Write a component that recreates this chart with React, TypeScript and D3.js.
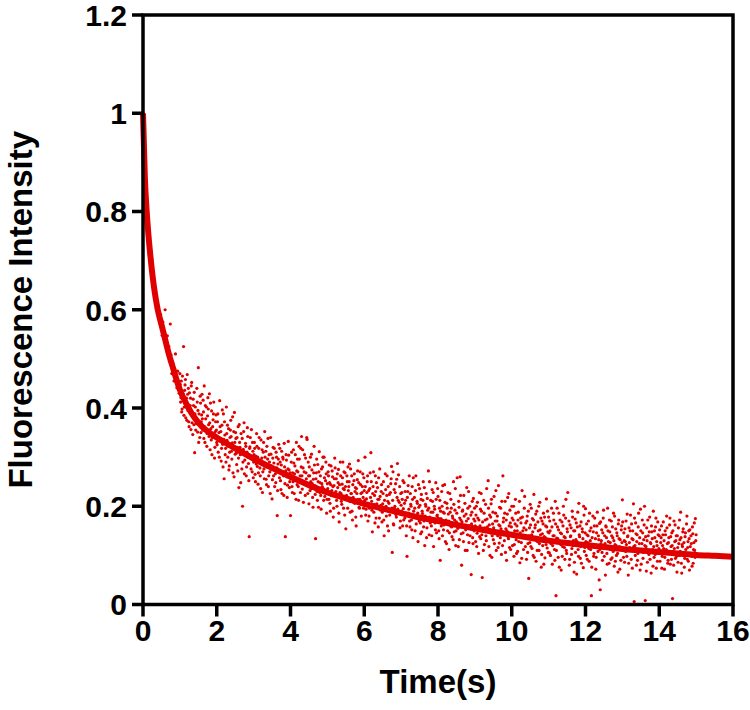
import React from "react";
import * as d3 from "d3";

// Axis ticks
const xTicks = [0, 2, 4, 6, 8, 10, 12, 14, 16];
const yTicks = [0, 0.2, 0.4, 0.6, 0.8, 1, 1.2];
const yTickLabels = ["0", "0.2", "0.4", "0.6", "0.8", "1", "1.2"];

// Fitted decay curve
const fitT = [0, 0.05, 0.1, 0.15, 0.2, 0.3, 0.4, 0.5, 0.6, 0.7, 0.8, 0.9, 1.0, 1.2, 1.4, 1.6, 1.8, 2.0, 2.5, 3, 3.5, 4, 4.5, 5, 5.5, 6, 6.5, 7, 7.5, 8, 8.5, 9, 9.5, 10, 10.5, 11, 11.5, 12, 12.5, 13, 13.5, 14, 14.5, 15, 15.5, 16];
const fitY = [1.0, 0.87, 0.8, 0.75, 0.71, 0.645, 0.6, 0.57, 0.54, 0.51, 0.485, 0.46, 0.437, 0.405, 0.38, 0.362, 0.35, 0.34, 0.318, 0.297, 0.278, 0.26, 0.243, 0.228, 0.216, 0.205, 0.195, 0.186, 0.177, 0.17, 0.162, 0.155, 0.148, 0.142, 0.136, 0.13, 0.125, 0.121, 0.117, 0.113, 0.11, 0.107, 0.104, 0.101, 0.099, 0.097];

// Measured points [time (s), intensity], even frames
const scatter: [number, number][] = [
[0,1.0],[.02,.955],[.04,.905],[.06,.862],[.08,.835],[.1,.8],[.12,.782],[.14,.76],[.16,.741],[.18,.728],[.2,.712],[.22,.69],[.24,.688],[.26,.668],[.28,.66],[.3,.647],[.32,.631],[.34,.626],[.36,.612],[.38,.618],[.4,.598],[.42,.606],[.44,.588],[.46,.572],[.48,.59],[.5,.566],[.52,.548],[.54,.575],[.56,.541],[.58,.556],[.6,.6],[.62,.53],[.64,.52],[.66,.547],[.68,.512],[.7,.525],[.72,.495],[.74,.571],[.76,.508],[.78,.47],[.8,.493],[.82,.486],[.84,.455],[.86,.48],[.88,.51],[.9,.462],[.92,.441],[.94,.475],[.96,.448],[.98,.43],[1.0,.47],
[1.02,.412],[1.04,.455],[1.06,.398],[1.08,.43],[1.1,.525],[1.12,.402],[1.14,.447],[1.16,.38],[1.18,.42],[1.2,.468],[1.22,.395],[1.24,.372],[1.26,.431],[1.28,.405],[1.3,.356],[1.32,.452],[1.34,.39],[1.36,.418],[1.38,.366],[1.4,.309],[1.42,.402],[1.44,.376],[1.46,.44],[1.48,.351],[1.5,.482],[1.52,.388],[1.54,.34],[1.56,.41],[1.58,.372],[1.6,.428],[1.62,.355],[1.64,.392],[1.66,.445],[1.68,.33],[1.7,.378],[1.72,.402],[1.74,.348],[1.76,.421],[1.78,.366],[1.8,.429],[1.82,.315],[1.84,.358],[1.86,.394],[1.88,.34],[1.9,.376],[1.92,.412],[1.94,.298],[1.96,.352],[1.98,.386],[2.0,.33],
[2.02,.372],[2.04,.31],[2.06,.35],[2.08,.415],[2.1,.338],[2.12,.292],[2.14,.365],[2.16,.326],[2.18,.388],[2.2,.256],[2.22,.345],[2.24,.318],[2.26,.402],[2.28,.334],[2.3,.3],[2.32,.358],[2.34,.282],[2.36,.34],[2.38,.375],[2.4,.312],[2.42,.329],[2.44,.268],[2.46,.352],[2.48,.391],[2.5,.306],[2.52,.338],[2.54,.285],[2.56,.32],[2.58,.362],[2.6,.238],[2.62,.33],[2.64,.305],[2.66,.348],[2.68,.276],[2.7,.2],[2.72,.316],[2.74,.37],[2.76,.294],[2.78,.328],[2.8,.262],[2.82,.31],[2.84,.342],[2.86,.287],[2.88,.138],[2.9,.321],[2.92,.298],[2.94,.356],[2.96,.27],[2.98,.312],[3.0,.29],
[3.02,.33],[3.04,.265],[3.06,.302],[3.08,.348],[3.1,.281],[3.12,.245],[3.14,.318],[3.16,.29],[3.18,.262],[3.2,.335],[3.22,.298],[3.24,.228],[3.26,.31],[3.28,.276],[3.3,.352],[3.32,.285],[3.34,.255],[3.36,.322],[3.38,.296],[3.4,.24],[3.42,.305],[3.44,.27],[3.46,.34],[3.48,.282],[3.5,.215],[3.52,.298],[3.54,.262],[3.56,.318],[3.58,.276],[3.6,.248],[3.62,.3],[3.64,.181],[3.66,.286],[3.68,.326],[3.7,.258],[3.72,.29],[3.74,.234],[3.76,.312],[3.78,.27],[3.8,.296],[3.82,.222],[3.84,.28],[3.86,.138],[3.88,.305],[3.9,.26],[3.92,.243],[3.94,.332],[3.96,.274],[3.98,.25],[4.0,.181],
[4.02,.29],[4.04,.24],[4.06,.268],[4.08,.315],[4.1,.226],[4.12,.282],[4.14,.256],[4.16,.33],[4.18,.244],[4.2,.27],[4.22,.212],[4.24,.296],[4.26,.262],[4.28,.318],[4.3,.342],[4.32,.235],[4.34,.278],[4.36,.25],[4.38,.305],[4.4,.222],[4.42,.268],[4.44,.34],[4.46,.246],[4.48,.29],[4.5,.205],[4.52,.262],[4.54,.3],[4.56,.236],[4.58,.274],[4.6,.218],[4.62,.255],[4.64,.322],[4.66,.242],[4.68,.134],[4.7,.268],[4.72,.23],[4.74,.285],[4.76,.198],[4.78,.311],[4.8,.248],[4.82,.222],[4.84,.276],[4.86,.24],[4.88,.3],[4.9,.212],[4.92,.258],[4.94,.232],[4.96,.29],[4.98,.186],[5.0,.246],
[5.02,.27],[5.04,.214],[5.06,.248],[5.08,.19],[5.1,.282],[5.12,.232],[5.14,.26],[5.16,.178],[5.18,.242],[5.2,.298],[5.22,.22],[5.24,.256],[5.26,.2],[5.28,.238],[5.3,.275],[5.32,.168],[5.34,.228],[5.36,.262],[5.38,.21],[5.4,.245],[5.42,.29],[5.44,.196],[5.46,.234],[5.48,.268],[5.5,.154],[5.52,.222],[5.54,.25],[5.56,.28],[5.58,.24],[5.6,.286],[5.62,.188],[5.64,.226],[5.66,.262],[5.68,.172],[5.7,.218],[5.72,.252],[5.74,.206],[5.76,.238],[5.78,.16],[5.8,.226],[5.82,.272],[5.84,.293],[5.86,.198],[5.88,.214],[5.9,.244],[5.92,.18],[5.94,.228],[5.96,.266],[5.98,.196],[6.0,.232],
[6.02,.3],[6.04,.182],[6.06,.215],[6.08,.25],[6.1,.17],[6.12,.232],[6.14,.196],[6.16,.268],[6.18,.309],[6.2,.21],[6.22,.148],[6.24,.24],[6.26,.188],[6.28,.222],[6.3,.262],[6.32,.176],[6.34,.205],[6.36,.238],[6.38,.158],[6.4,.214],[6.42,.276],[6.44,.192],[6.46,.23],[6.48,.168],[6.5,.205],[6.52,.25],[6.54,.14],[6.56,.198],[6.58,.234],[6.6,.18],[6.62,.262],[6.64,.21],[6.66,.15],[6.68,.224],[6.7,.19],[6.72,.246],[6.74,.281],[6.76,.106],[6.78,.27],[6.8,.162],[6.82,.196],[6.84,.228],[6.86,.183],[6.88,.255],[6.9,.287],[6.92,.212],[6.94,.186],[6.96,.24],[6.98,.17],[7.0,.202],
[7.02,.228],[7.04,.16],[7.06,.195],[7.08,.248],[7.1,.176],[7.12,.212],[7.14,.14],[7.16,.098],[7.18,.23],[7.2,.186],[7.22,.262],[7.24,.158],[7.26,.204],[7.28,.172],[7.3,.24],[7.32,.136],[7.34,.19],[7.36,.218],[7.38,.15],[7.4,.262],[7.42,.18],[7.44,.206],[7.46,.128],[7.48,.198],[7.5,.236],[7.52,.166],[7.54,.214],[7.56,.148],[7.58,.185],[7.6,.25],[7.62,.17],[7.64,.12],[7.66,.204],[7.68,.226],[7.7,.156],[7.72,.192],[7.74,.272],[7.76,.142],[7.78,.178],[7.8,.212],[7.82,.16],[7.84,.234],[7.86,.188],[7.88,.118],[7.9,.2],[7.92,.166],[7.94,.248],[7.96,.146],[7.98,.182],[8.0,.22],
[8.02,.15],[8.04,.196],[8.06,.09],[8.08,.175],[8.1,.23],[8.12,.14],[8.14,.188],[8.16,.162],[8.18,.244],[8.2,.128],[8.22,.172],[8.24,.206],[8.26,.15],[8.28,.184],[8.3,.112],[8.32,.226],[8.34,.16],[8.36,.196],[8.38,.138],[8.4,.176],[8.42,.25],[8.44,.148],[8.46,.192],[8.48,.12],[8.5,.168],[8.52,.258],[8.54,.155],[8.56,.21],[8.58,.132],[8.6,.26],[8.62,.172],[8.64,.08],[8.66,.19],[8.68,.146],[8.7,.222],[8.72,.16],[8.74,.11],[8.76,.184],[8.78,.238],[8.8,.142],[8.82,.175],[8.84,.126],[8.86,.2],[8.88,.158],[8.9,.061],[8.92,.188],[8.94,.136],[8.96,.216],[8.98,.15],[9.0,.17],
[9.02,.128],[9.04,.2],[9.06,.145],[9.08,.176],[9.1,.104],[9.12,.228],[9.14,.16],[9.16,.134],[9.18,.19],[9.2,.055],[9.22,.15],[9.24,.212],[9.26,.122],[9.28,.172],[9.3,.14],[9.32,.236],[9.34,.158],[9.36,.252],[9.38,.118],[9.4,.182],[9.42,.146],[9.44,.205],[9.46,.096],[9.48,.164],[9.5,.132],[9.52,.22],[9.54,.15],[9.56,.186],[9.58,.11],[9.6,.17],[9.62,.14],[9.64,.242],[9.66,.125],[9.68,.16],[9.7,.196],[9.72,.102],[9.74,.148],[9.76,.262],[9.78,.176],[9.8,.13],[9.82,.21],[9.84,.154],[9.86,.09],[9.88,.184],[9.9,.138],[9.92,.226],[9.94,.116],[9.96,.166],[9.98,.145],[10.0,.2],
[10.02,.12],[10.04,.172],[10.06,.098],[10.08,.15],[10.1,.214],[10.12,.132],[10.14,.16],[10.16,.108],[10.18,.188],[10.2,.14],[10.22,.085],[10.24,.176],[10.26,.126],[10.28,.232],[10.3,.15],[10.32,.112],[10.34,.196],[10.36,.138],[10.38,.166],[10.4,.092],[10.42,.18],[10.44,.124],[10.46,.053],[10.48,.156],[10.5,.204],[10.52,.118],[10.54,.142],[10.56,.175],[10.58,.1],[10.6,.224],[10.62,.135],[10.64,.162],[10.66,.088],[10.68,.19],[10.7,.128],[10.72,.15],[10.74,.11],[10.76,.208],[10.78,.142],[10.8,.076],[10.82,.17],[10.84,.12],[10.86,.186],[10.88,.138],[10.9,.095],[10.92,.16],[10.94,.215],[10.96,.115],[10.98,.148],[11.0,.178],
[11.02,.105],[11.04,.15],[11.06,.124],[11.08,.196],[11.1,.082],[11.12,.14],[11.14,.172],[11.16,.112],[11.18,.21],[11.2,.018],[11.22,.135],[11.24,.158],[11.26,.096],[11.28,.186],[11.3,.126],[11.32,.146],[11.34,.07],[11.36,.168],[11.38,.118],[11.4,.2],[11.42,.138],[11.44,.092],[11.46,.176],[11.48,.11],[11.5,.154],[11.52,.228],[11.54,.128],[11.56,.08],[11.58,.162],[11.6,.14],[11.62,.102],[11.64,.19],[11.66,.12],[11.68,.15],[11.7,.086],[11.72,.174],[11.74,.132],[11.76,.062],[11.78,.158],[11.8,.112],[11.82,.206],[11.84,.138],[11.86,.094],[11.88,.168],[11.9,.124],[11.92,.148],[11.94,.075],[11.96,.182],[11.98,.116],[12.0,.195],
[12.02,.1],[12.04,.142],[12.06,.126],[12.08,.17],[12.1,.088],[12.12,.15],[12.14,.112],[12.16,.018],[12.18,.136],[12.2,.18],[12.22,.098],[12.24,.16],[12.26,.12],[12.28,.072],[12.3,.146],[12.32,.188],[12.34,.108],[12.36,.132],[12.38,.165],[12.4,.03],[12.42,.124],[12.44,.152],[12.46,.09],[12.48,.176],[12.5,.116],[12.52,.14],[12.54,.06],[12.56,.158],[12.58,.104],[12.6,.196],[12.62,.128],[12.64,.084],[12.66,.148],[12.68,.112],[12.7,.17],[12.72,.095],[12.74,.136],[12.76,.186],[12.78,.078],[12.8,.122],[12.82,.154],[12.84,.1],[12.86,.14],[12.88,.066],[12.9,.172],[12.92,.118],[12.94,.132],[12.96,.09],[12.98,.16],[13.0,.213],
[13.02,.112],[13.04,.146],[13.06,.086],[13.08,.128],[13.1,.17],[13.12,.098],[13.14,.138],[13.16,.06],[13.18,.156],[13.2,.116],[13.22,.182],[13.24,.092],[13.26,.134],[13.28,.15],[13.3,.205],[13.32,.006],[13.34,.12],[13.36,.166],[13.38,.08],[13.4,.142],[13.42,.104],[13.44,.186],[13.46,.124],[13.48,.07],[13.5,.15],[13.52,.11],[13.54,.172],[13.56,.094],[13.58,.132],[13.6,.2],[13.62,.008],[13.64,.118],[13.66,.156],[13.68,.086],[13.7,.14],[13.72,.102],[13.74,.178],[13.76,.126],[13.78,.064],[13.8,.148],[13.82,.112],[13.84,.19],[13.86,.096],[13.88,.136],[13.9,.158],[13.92,.074],[13.94,.12],[13.96,.168],[13.98,.104],[14.0,.14],
[14.02,.088],[14.04,.126],[14.06,.16],[14.08,.098],[14.1,.142],[14.12,.114],[14.14,.072],[14.16,.15],[14.18,.106],[14.2,.18],[14.22,.124],[14.24,.09],[14.26,.136],[14.28,.162],[14.3,.082],[14.32,.118],[14.34,.146],[14.36,.012],[14.38,.108],[14.4,.17],[14.42,.128],[14.44,.094],[14.46,.14],[14.48,.066],[14.5,.116],[14.52,.156],[14.54,.1],[14.56,.132],[14.58,.188],[14.6,.084],[14.62,.122],[14.64,.148],[14.66,.102],[14.68,.076],[14.7,.138],[14.72,.112],[14.74,.164],[14.76,.092],[14.78,.128],[14.8,.15],[14.82,.07],[14.84,.118],[14.86,.14],[14.88,.098],[14.9,.158],[14.92,.084],[14.94,.126],[14.96,.11],[14.98,.175],[15.0,.142]
];

// Measured points, odd frames
const scatterB: [number, number][] = [
[1.01,.448],[1.03,.421],[1.05,.392],[1.07,.465],[1.09,.418],[1.11,.385],[1.13,.436],[1.15,.458],[1.17,.402],[1.19,.375],[1.21,.428],[1.23,.44],[1.25,.362],[1.27,.398],[1.29,.42],[1.31,.445],[1.33,.37],[1.35,.346],[1.37,.405],[1.39,.432],[1.41,.388],[1.43,.355],[1.45,.368],[1.47,.412],[1.49,.395],[1.51,.33],[1.53,.372],[1.55,.424],[1.57,.35],[1.59,.386],[1.61,.378],[1.63,.416],[1.65,.338],[1.67,.362],[1.69,.405],[1.71,.355],[1.73,.322],[1.75,.384],[1.77,.398],[1.79,.342],[1.81,.37],[1.83,.41],[1.85,.335],[1.87,.305],[1.89,.362],[1.91,.388],[1.93,.346],[1.95,.32],[1.97,.372],[1.99,.355],
[2.01,.325],[2.03,.388],[2.05,.34],[2.07,.3],[2.09,.362],[2.11,.352],[2.13,.318],[2.15,.396],[2.17,.28],[2.19,.336],[2.21,.372],[2.23,.305],[2.25,.29],[2.27,.348],[2.29,.365],[2.31,.322],[2.33,.274],[2.35,.31],[2.37,.355],[2.39,.342],[2.41,.296],[2.43,.382],[2.45,.318],[2.47,.26],[2.49,.33],[2.51,.35],[2.53,.308],[2.55,.34],[2.57,.272],[2.59,.298],[2.61,.366],[2.63,.32],[2.65,.248],[2.67,.312],[2.69,.338],[2.71,.29],[2.73,.352],[2.75,.266],[2.77,.305],[2.79,.322],[2.81,.28],[2.83,.36],[2.85,.3],[2.87,.252],[2.89,.318],[2.91,.34],[2.93,.276],[2.95,.296],[2.97,.33],[2.99,.258],
[3.01,.305],[3.03,.318],[3.05,.25],[3.07,.286],[3.09,.322],[3.11,.3],[3.13,.268],[3.15,.34],[3.17,.278],[3.19,.236],[3.21,.292],[3.23,.315],[3.25,.27],[3.27,.33],[3.29,.256],[3.31,.3],[3.33,.312],[3.35,.244],[3.37,.28],[3.39,.338],[3.41,.262],[3.43,.29],[3.45,.226],[3.47,.306],[3.49,.275],[3.51,.254],[3.53,.32],[3.55,.288],[3.57,.24],[3.59,.266],[3.61,.31],[3.63,.278],[3.65,.232],[3.67,.296],[3.69,.27],[3.71,.318],[3.73,.252],[3.75,.284],[3.77,.226],[3.79,.3],[3.81,.262],[3.83,.328],[3.85,.246],[3.87,.272],[3.89,.294],[3.91,.218],[3.93,.276],[3.95,.304],[3.97,.238],[3.99,.268],
[4.01,.256],[4.03,.31],[4.05,.228],[4.07,.25],[4.09,.288],[4.11,.266],[4.13,.305],[4.15,.214],[4.17,.272],[4.19,.296],[4.21,.24],[4.23,.322],[4.25,.252],[4.27,.228],[4.29,.28],[4.31,.262],[4.33,.315],[4.35,.208],[4.37,.27],[4.39,.244],[4.41,.298],[4.43,.256],[4.45,.336],[4.47,.226],[4.49,.262],[4.51,.28],[4.53,.232],[4.55,.25],[4.57,.306],[4.59,.246],[4.61,.198],[4.63,.268],[4.65,.284],[4.67,.224],[4.69,.256],[4.71,.296],[4.73,.212],[4.75,.25],[4.77,.27],[4.79,.228],[4.81,.262],[4.83,.194],[4.85,.246],[4.87,.28],[4.89,.236],[4.91,.3],[4.93,.22],[4.95,.252],[4.97,.266],[4.99,.214],
[5.01,.236],[5.03,.262],[5.05,.284],[5.07,.206],[5.09,.244],[5.11,.222],[5.13,.272],[5.15,.24],[5.17,.196],[5.19,.256],[5.21,.278],[5.23,.23],[5.25,.212],[5.27,.266],[5.29,.248],[5.31,.186],[5.33,.244],[5.35,.29],[5.37,.226],[5.39,.204],[5.41,.258],[5.43,.236],[5.45,.27],[5.47,.182],[5.49,.24],[5.51,.216],[5.53,.262],[5.55,.196],[5.57,.232],[5.59,.25],[5.61,.21],[5.63,.276],[5.65,.226],[5.67,.19],[5.69,.244],[5.71,.208],[5.73,.266],[5.75,.23],[5.77,.178],[5.79,.236],[5.81,.254],[5.83,.214],[5.85,.248],[5.87,.196],[5.89,.27],[5.91,.226],[5.93,.204],[5.95,.24],[5.97,.218],[5.99,.258],
[6.01,.212],[6.03,.24],[6.05,.194],[6.07,.228],[6.09,.262],[6.11,.206],[6.13,.18],[6.15,.236],[6.17,.218],[6.19,.25],[6.21,.192],[6.23,.226],[6.25,.27],[6.27,.204],[6.29,.166],[6.31,.23],[6.33,.248],[6.35,.196],[6.37,.214],[6.39,.258],[6.41,.176],[6.43,.22],[6.45,.202],[6.47,.244],[6.49,.188],[6.51,.226],[6.53,.172],[6.55,.212],[6.57,.266],[6.59,.2],[6.61,.222],[6.63,.16],[6.65,.24],[6.67,.206],[6.69,.182],[6.71,.228],[6.73,.256],[6.75,.196],[6.77,.212],[6.79,.164],[6.81,.234],[6.83,.2],[6.85,.246],[6.87,.178],[6.89,.218],[6.91,.194],[6.93,.264],[6.95,.208],[6.97,.156],[6.99,.226],
[7.01,.19],[7.03,.214],[7.05,.252],[7.07,.172],[7.09,.206],[7.11,.23],[7.13,.186],[7.15,.16],[7.17,.218],[7.19,.242],[7.21,.194],[7.23,.17],[7.25,.226],[7.27,.2],[7.29,.152],[7.31,.214],[7.33,.258],[7.35,.178],[7.37,.196],[7.39,.232],[7.41,.164],[7.43,.21],[7.45,.186],[7.47,.244],[7.49,.17],[7.51,.202],[7.53,.144],[7.55,.224],[7.57,.19],[7.59,.212],[7.61,.158],[7.63,.238],[7.65,.18],[7.67,.2],[7.69,.136],[7.71,.216],[7.73,.176],[7.75,.196],[7.77,.25],[7.79,.166],[7.81,.188],[7.83,.14],[7.85,.21],[7.87,.228],[7.89,.172],[7.91,.194],[7.93,.152],[7.95,.214],[7.97,.18],[7.99,.236],
[8.01,.176],[8.03,.134],[8.05,.212],[8.07,.19],[8.09,.16],[8.11,.2],[8.13,.242],[8.15,.152],[8.17,.186],[8.19,.208],[8.21,.166],[8.23,.124],[8.25,.196],[8.27,.228],[8.29,.17],[8.31,.146],[8.33,.188],[8.35,.214],[8.37,.158],[8.39,.18],[8.41,.132],[8.43,.204],[8.45,.172],[8.47,.236],[8.49,.15],[8.51,.186],[8.53,.164],[8.55,.118],[8.57,.198],[8.59,.176],[8.61,.222],[8.63,.144],[8.65,.168],[8.67,.192],[8.69,.128],[8.71,.18],[8.73,.206],[8.75,.152],[8.77,.17],[8.79,.11],[8.81,.196],[8.83,.23],[8.85,.16],[8.87,.14],[8.89,.182],[8.91,.164],[8.93,.21],[8.95,.124],[8.97,.174],[8.99,.196],
[9.01,.16],[9.03,.182],[9.05,.118],[9.07,.208],[9.09,.15],[9.11,.172],[9.13,.138],[9.15,.194],[9.17,.226],[9.19,.142],[9.21,.168],[9.23,.11],[9.25,.186],[9.27,.156],[9.29,.204],[9.31,.13],[9.33,.174],[9.35,.148],[9.37,.196],[9.39,.162],[9.41,.1],[9.43,.178],[9.45,.214],[9.47,.14],[9.49,.188],[9.51,.156],[9.53,.124],[9.55,.17],[9.57,.232],[9.59,.146],[9.61,.18],[9.63,.116],[9.65,.162],[9.67,.198],[9.69,.136],[9.71,.154],[9.73,.21],[9.75,.12],[9.77,.168],[9.79,.144],[9.81,.186],[9.83,.106],[9.85,.172],[9.87,.15],[9.89,.218],[9.91,.134],[9.93,.16],[9.95,.192],[9.97,.112],[9.99,.158],
[10.01,.176],[10.03,.14],[10.05,.2],[10.07,.122],[10.09,.164],[10.11,.186],[10.13,.104],[10.15,.15],[10.17,.172],[10.19,.128],[10.21,.21],[10.23,.146],[10.25,.166],[10.27,.094],[10.29,.178],[10.31,.136],[10.33,.156],[10.35,.22],[10.37,.118],[10.39,.152],[10.41,.17],[10.43,.106],[10.45,.19],[10.47,.14],[10.49,.126],[10.51,.162],[10.53,.196],[10.55,.114],[10.57,.148],[10.59,.172],[10.61,.096],[10.63,.156],[10.65,.184],[10.67,.13],[10.69,.11],[10.71,.168],[10.73,.2],[10.75,.124],[10.77,.152],[10.79,.176],[10.81,.102],[10.83,.144],[10.85,.164],[10.87,.082],[10.89,.178],[10.91,.136],[10.93,.122],[10.95,.158],[10.97,.19],[10.99,.106],
[11.01,.146],[11.03,.17],[11.05,.1],[11.07,.132],[11.09,.158],[11.11,.12],[11.13,.186],[11.15,.14],[11.17,.09],[11.19,.164],[11.21,.11],[11.23,.196],[11.25,.134],[11.27,.152],[11.29,.076],[11.31,.172],[11.33,.122],[11.35,.144],[11.37,.098],[11.39,.16],[11.41,.182],[11.43,.116],[11.45,.136],[11.47,.214],[11.49,.104],[11.51,.148],[11.53,.124],[11.55,.17],[11.57,.092],[11.59,.138],[11.61,.156],[11.63,.114],[11.65,.178],[11.67,.13],[11.69,.066],[11.71,.15],[11.73,.106],[11.75,.166],[11.77,.128],[11.79,.188],[11.81,.098],[11.83,.142],[11.85,.16],[11.87,.118],[11.89,.084],[11.91,.154],[11.93,.134],[11.95,.2],[11.97,.108],[11.99,.146],
[12.01,.128],[12.03,.164],[12.05,.092],[12.07,.14],[12.09,.114],[12.11,.186],[12.13,.13],[12.15,.156],[12.17,.076],[12.19,.122],[12.21,.148],[12.23,.104],[12.25,.176],[12.27,.134],[12.29,.096],[12.31,.16],[12.33,.118],[12.35,.14],[12.37,.05],[12.39,.112],[12.41,.168],[12.43,.13],[12.45,.106],[12.47,.146],[12.49,.192],[12.51,.098],[12.53,.124],[12.55,.16],[12.57,.136],[12.59,.082],[12.61,.15],[12.63,.114],[12.65,.172],[12.67,.126],[12.69,.092],[12.71,.14],[12.73,.158],[12.75,.108],[12.77,.13],[12.79,.18],[12.81,.088],[12.83,.12],[12.85,.146],[12.87,.104],[12.89,.164],[12.91,.134],[12.93,.072],[12.95,.116],[12.97,.152],[12.99,.126],
[13.01,.168],[13.03,.096],[13.05,.13],[13.07,.154],[13.09,.108],[13.11,.122],[13.13,.184],[13.15,.14],[13.17,.084],[13.19,.126],[13.21,.15],[13.23,.11],[13.25,.164],[13.27,.074],[13.29,.132],[13.31,.118],[13.33,.176],[13.35,.1],[13.37,.144],[13.39,.128],[13.41,.09],[13.43,.158],[13.45,.112],[13.47,.136],[13.49,.194],[13.51,.082],[13.53,.124],[13.55,.146],[13.57,.106],[13.59,.162],[13.61,.12],[13.63,.138],[13.65,.068],[13.67,.13],[13.69,.172],[13.71,.11],[13.73,.148],[13.75,.092],[13.77,.124],[13.79,.16],[13.81,.134],[13.83,.078],[13.85,.118],[13.87,.15],[13.89,.102],[13.91,.176],[13.93,.128],[13.95,.088],[13.97,.142],[13.99,.114],
[14.01,.152],[14.03,.104],[14.05,.136],[14.07,.074],[14.09,.12],[14.11,.168],[14.13,.13],[14.15,.096],[14.17,.142],[14.19,.112],[14.21,.156],[14.23,.084],[14.25,.126],[14.27,.104],[14.29,.176],[14.31,.138],[14.33,.092],[14.35,.12],[14.37,.15],[14.39,.08],[14.41,.114],[14.43,.162],[14.45,.13],[14.47,.098],[14.49,.14],[14.51,.086],[14.53,.124],[14.55,.172],[14.57,.108],[14.59,.136],[14.61,.064],[14.63,.118],[14.65,.154],[14.67,.126],[14.69,.094],[14.71,.146],[14.73,.104],[14.75,.18],[14.77,.116],[14.79,.088],[14.81,.134],[14.83,.152],[14.85,.1],[14.87,.124],[14.89,.078],[14.91,.144],[14.93,.112],[14.95,.166],[14.97,.096],[14.99,.13]
];

const RED = "#e00000";
const FONT = "Liberation Sans, Arial, Helvetica, sans-serif";

export default function App() {
  const W = 750, H = 710;
  const x0 = 143, x1 = 733, yTop = 15, yBot = 604.5;
  const x = d3.scaleLinear().domain([0, 16]).range([x0, x1]);
  const y = d3.scaleLinear().domain([0, 1.2]).range([yBot, yTop]);

  const fitData = fitT.map((t, i) => [t, fitY[i]] as [number, number]);
  const line = d3.line<[number, number]>()
    .x(d => x(d[0]))
    .y(d => y(d[1]))
    .curve(d3.curveMonotoneX);
  const allPts = scatter.concat(scatterB);

  return (
    <svg width={W} height={H} style={{ position: "absolute", left: 0, top: 0, background: "#fff" }} fontFamily={FONT}>
      <rect width={W} height={H} fill="#fff" />
      <g>
        {allPts.map((d, i) => (
          <circle key={i} cx={x(d[0])} cy={y(d[1])} r={1.6} fill={RED} />
        ))}
      </g>
      <path d={line(fitData) || ""} fill="none" stroke={RED} strokeWidth={6} strokeLinejoin="round" strokeLinecap="butt" />
      {/* frame */}
      <rect x={x0} y={yTop} width={x1 - x0} height={yBot - yTop} fill="none" stroke="#000" strokeWidth={3.5} />
      {/* y ticks */}
      {yTicks.map((v, i) => (
        <g key={"y" + i}>
          <line x1={x0 - 11} x2={x0} y1={y(v)} y2={y(v)} stroke="#000" strokeWidth={3.5} />
          <text x={127} y={y(v)} dy="0.36em" textAnchor="end" fontSize={30} fontWeight="bold" fill="#000">{yTickLabels[i]}</text>
        </g>
      ))}
      {/* x ticks */}
      {xTicks.map((v, i) => (
        <g key={"x" + i}>
          <line x1={x(v)} x2={x(v)} y1={yBot} y2={yBot + 12} stroke="#000" strokeWidth={3.5} />
          <text x={x(v)} y={641} textAnchor="middle" fontSize={30} fontWeight="bold" fill="#000">{String(v)}</text>
        </g>
      ))}
      <text x={(x0 + x1) / 2} y={693} textAnchor="middle" fontSize={33} fontWeight="bold" fill="#000">Time(s)</text>
      <text transform={`translate(32, ${(yTop + yBot) / 2}) rotate(-90)`} textAnchor="middle" fontSize={33} fontWeight="bold" fill="#000">Fluorescence Intensity</text>
    </svg>
  );
}
